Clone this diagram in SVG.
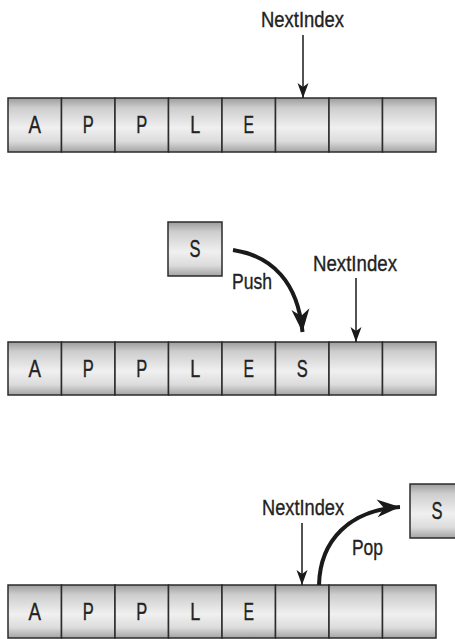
<svg xmlns="http://www.w3.org/2000/svg" width="455" height="639" viewBox="0 0 455 639">
<defs>
<linearGradient id="g" x1="0" y1="0" x2="0" y2="1">
<stop offset="0" stop-color="#9c9c9c"/>
<stop offset="0.18" stop-color="#cdcdcd"/>
<stop offset="0.55" stop-color="#f0f0f0"/>
<stop offset="0.8" stop-color="#dcdcdc"/>
<stop offset="1" stop-color="#a4a4a4"/>
</linearGradient>
<marker id="thin" viewBox="-16 -6 17 12" refX="0" refY="0" markerWidth="17" markerHeight="12" markerUnits="userSpaceOnUse" orient="auto">
<path d="M0,0 L-15,-5.5 L-11,0 L-15,5.5 Z" fill="#1a1a1a"/>
</marker>
<marker id="thick" viewBox="-24 -10 25 20" refX="0" refY="0" markerWidth="25" markerHeight="20" markerUnits="userSpaceOnUse" orient="auto">
<path d="M0,0 L-23,-9 L-16,0 L-23,9 Z" fill="#1a1a1a"/>
</marker>
</defs>
<style>
.cell{fill:url(#g);stroke:#2b2b2b;stroke-width:1.5}
.t{font-family:"Liberation Sans",Arial,sans-serif;font-size:22px;fill:#222;stroke:#222;stroke-width:0.35;text-anchor:middle}
.c{font-size:23px}
.lbl{font-family:"Liberation Sans",Arial,sans-serif;font-size:22px;fill:#222;stroke:#222;stroke-width:0.35}
.thin{stroke:#1a1a1a;stroke-width:1.5;fill:none}
.thick{stroke:#1a1a1a;stroke-width:4;fill:none}
</style>

<g id="array1">
<rect class="cell" x="8" y="98" width="53.5" height="54"/>
<rect class="cell" x="61.5" y="98" width="53.5" height="54"/>
<rect class="cell" x="115" y="98" width="53.5" height="54"/>
<rect class="cell" x="168.5" y="98" width="53.5" height="54"/>
<rect class="cell" x="222" y="98" width="53.5" height="54"/>
<rect class="cell" x="275.5" y="98" width="53.5" height="54"/>
<rect class="cell" x="329" y="98" width="53.5" height="54"/>
<rect class="cell" x="382.5" y="98" width="53.5" height="54"/>
<text class="t c" x="34.75" y="133" textLength="12.5" lengthAdjust="spacingAndGlyphs">A</text>
<text class="t c" x="88.25" y="133" textLength="11" lengthAdjust="spacingAndGlyphs">P</text>
<text class="t c" x="141.75" y="133" textLength="11" lengthAdjust="spacingAndGlyphs">P</text>
<text class="t c" x="195.25" y="133" textLength="10" lengthAdjust="spacingAndGlyphs">L</text>
<text class="t c" x="248.75" y="133" textLength="10.5" lengthAdjust="spacingAndGlyphs">E</text>
</g>

<g id="array2">
<rect class="cell" x="8" y="342" width="53.5" height="53"/>
<rect class="cell" x="61.5" y="342" width="53.5" height="53"/>
<rect class="cell" x="115" y="342" width="53.5" height="53"/>
<rect class="cell" x="168.5" y="342" width="53.5" height="53"/>
<rect class="cell" x="222" y="342" width="53.5" height="53"/>
<rect class="cell" x="275.5" y="342" width="53.5" height="53"/>
<rect class="cell" x="329" y="342" width="53.5" height="53"/>
<rect class="cell" x="382.5" y="342" width="53.5" height="53"/>
<text class="t c" x="34.75" y="376.5" textLength="12.5" lengthAdjust="spacingAndGlyphs">A</text>
<text class="t c" x="88.25" y="376.5" textLength="11" lengthAdjust="spacingAndGlyphs">P</text>
<text class="t c" x="141.75" y="376.5" textLength="11" lengthAdjust="spacingAndGlyphs">P</text>
<text class="t c" x="195.25" y="376.5" textLength="10" lengthAdjust="spacingAndGlyphs">L</text>
<text class="t c" x="248.75" y="376.5" textLength="10.5" lengthAdjust="spacingAndGlyphs">E</text>
<text class="t c" x="302.25" y="376.5" textLength="11" lengthAdjust="spacingAndGlyphs">S</text>
</g>

<g id="array3">
<rect class="cell" x="8" y="585" width="53.5" height="53"/>
<rect class="cell" x="61.5" y="585" width="53.5" height="53"/>
<rect class="cell" x="115" y="585" width="53.5" height="53"/>
<rect class="cell" x="168.5" y="585" width="53.5" height="53"/>
<rect class="cell" x="222" y="585" width="53.5" height="53"/>
<rect class="cell" x="275.5" y="585" width="53.5" height="53"/>
<rect class="cell" x="329" y="585" width="53.5" height="53"/>
<rect class="cell" x="382.5" y="585" width="53.5" height="53"/>
<text class="t c" x="34.75" y="619.5" textLength="12.5" lengthAdjust="spacingAndGlyphs">A</text>
<text class="t c" x="88.25" y="619.5" textLength="11" lengthAdjust="spacingAndGlyphs">P</text>
<text class="t c" x="141.75" y="619.5" textLength="11" lengthAdjust="spacingAndGlyphs">P</text>
<text class="t c" x="195.25" y="619.5" textLength="10" lengthAdjust="spacingAndGlyphs">L</text>
<text class="t c" x="248.75" y="619.5" textLength="10.5" lengthAdjust="spacingAndGlyphs">E</text>
</g>

<g id="s-push">
<rect class="cell" x="168" y="222" width="54" height="54"/>
<text class="t c" x="195" y="257" textLength="11" lengthAdjust="spacingAndGlyphs">S</text>
</g>

<g id="s-pop">
<rect class="cell" x="410" y="484" width="54" height="54"/>
<text class="t c" x="437" y="519" textLength="11" lengthAdjust="spacingAndGlyphs">S</text>
</g>

<g id="labels">
<text class="t" x="302.5" y="27" textLength="83" lengthAdjust="spacingAndGlyphs">NextIndex</text>
<text class="t" x="355" y="271" textLength="84" lengthAdjust="spacingAndGlyphs">NextIndex</text>
<text class="t" x="303" y="515" textLength="82" lengthAdjust="spacingAndGlyphs">NextIndex</text>
<text class="lbl" x="232" y="289" textLength="40" lengthAdjust="spacingAndGlyphs">Push</text>
<text class="lbl" x="352" y="555" textLength="31" lengthAdjust="spacingAndGlyphs">Pop</text>
</g>

<g id="connectors">
<line class="thin" x1="303" y1="35" x2="303" y2="98" marker-end="url(#thin)"/>
<line class="thin" x1="356" y1="278" x2="356" y2="342" marker-end="url(#thin)"/>
<line class="thin" x1="302" y1="523" x2="302" y2="585" marker-end="url(#thin)"/>
<path class="thick" d="M233,250 C272,256 298,282 302.5,332" marker-end="url(#thick)"/>
<path class="thick" d="M319,585 C320,540 350,510 400,507" marker-end="url(#thick)"/>
</g>
</svg>
